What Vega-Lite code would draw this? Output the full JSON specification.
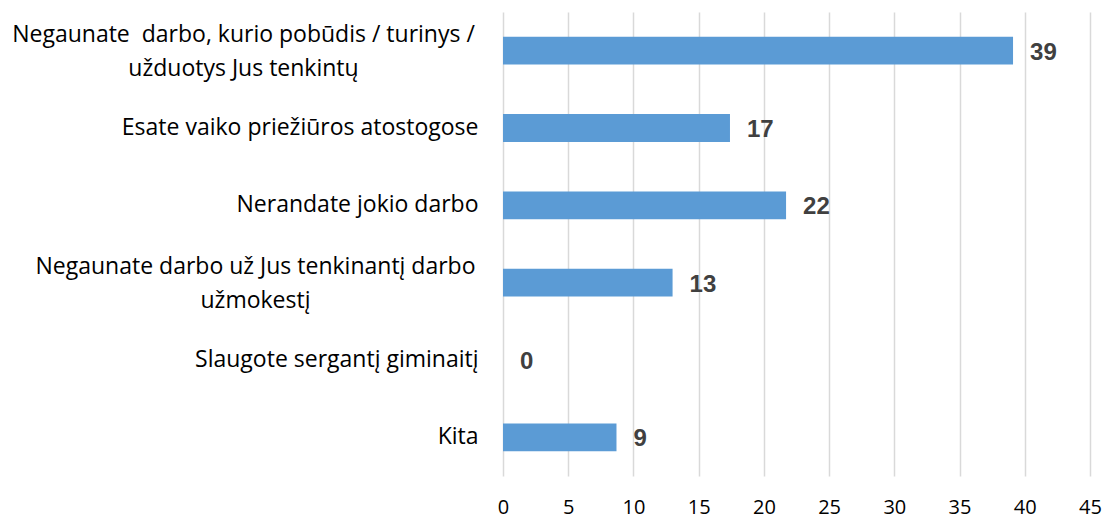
{
  "$schema": "https://vega.github.io/schema/vega-lite/v6.json",
  "width": 587,
  "height": 464,
  "autosize": {"type": "none"},
  "padding": {"left": 503, "top": 12, "right": 15, "bottom": 44},
  "background": "white",
  "config": {"view": {"stroke": null}},
  "data": {
    "values": [
      {"category": "Negaunate\u00a0 darbo, kurio pobūdis / turinys /|užduotys Jus tenkintų", "value": 39.1, "label": "39"},
      {"category": "Esate vaiko priežiūros atostogose", "value": 17.4, "label": "17"},
      {"category": "Nerandate jokio darbo", "value": 21.7, "label": "22"},
      {"category": "Negaunate darbo už Jus tenkinantį darbo|užmokestį", "value": 13.0, "label": "13"},
      {"category": "Slaugote sergantį giminaitį", "value": 0, "label": "0"},
      {"category": "Kita", "value": 8.7, "label": "9"}
    ]
  },
  "encoding": {
    "y": {
      "field": "category",
      "type": "nominal",
      "sort": null,
      "scale": {"paddingInner": 0.64, "paddingOuter": 0.32},
      "axis": {
        "title": null,
        "domain": false,
        "ticks": false,
        "labelPadding": {"condition": [
          {"test": "indexof(datum.value, 'pobūdis') >= 0", "value": 260},
          {"test": "indexof(datum.value, 'užmokestį') >= 0", "value": 248}
        ], "value": 25},
        "labelFont": "Open Sans",
        "labelFontSize": 23,
        "labelColor": "#000000",
        "labelLimit": 520,
        "labelLineHeight": 34,
        "labelAlign": {"condition": {"test": "indexof(datum.value, '|') >= 0", "value": "center"}, "value": "right"},
        "labelOffset": {"condition": {"test": "indexof(datum.value, '|') >= 0", "value": -16}, "value": 0},
        "labelExpr": "split(datum.label, '|')"
      }
    },
    "x": {
      "field": "value",
      "type": "quantitative",
      "scale": {"domain": [0, 45]},
      "axis": {
        "title": null,
        "values": [0, 5, 10, 15, 20, 25, 30, 35, 40, 45],
        "domain": false,
        "ticks": false,
        "grid": true,
        "gridColor": "#d9d9d9",
        "gridWidth": 1.5,
        "labelPadding": 21,
        "labelFont": "Open Sans",
        "labelFontSize": 20,
        "labelColor": "#000000",
        "labelFlush": false
      }
    }
  },
  "layer": [
    {
      "mark": {"type": "bar", "color": "#5b9bd5"}
    },
    {
      "mark": {"type": "text", "align": "left", "baseline": "middle", "dx": 17, "dy": 2, "font": "Liberation Sans", "fontWeight": "bold", "fontSize": 24, "color": "#404040"},
      "encoding": {"text": {"field": "label"}}
    }
  ]
}
